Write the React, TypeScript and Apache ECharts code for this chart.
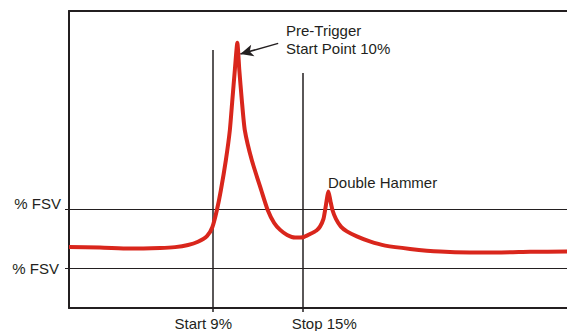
import React, { useEffect, useRef } from "react";
import * as echarts from "echarts";

// Curve (x: % of time axis, y: % of full scale)
const curveX = [0, 6.2, 12.2, 18.3, 21.3, 23.9, 25.9, 27.7, 28.8, 29.7, 30.5, 31.5, 32.3, 32.8, 33.3, 33.8, 34.2, 34.7, 35.3, 36.7, 38.6, 39.9, 41.2, 42.4, 43.8, 45.4, 47.0, 48.4, 49.7, 50.4, 51.1, 51.5, 52.1, 52.5, 52.9, 53.6, 54.6, 55.8, 57.8, 60.4, 63.5, 68.5, 74.5, 80.5, 86.5, 92.6, 100];
const curveY = [20.5, 20.4, 20.0, 20.2, 20.5, 21.2, 22.3, 24.2, 27.3, 33.0, 39.7, 49.8, 59.9, 70.0, 80.1, 89.3, 80.1, 70.0, 59.9, 49.8, 39.7, 33.0, 28.6, 26.3, 24.6, 23.7, 23.8, 24.9, 26.1, 27.4, 30.0, 33.7, 39.2, 36.0, 33.0, 30.0, 27.4, 25.8, 24.1, 22.4, 21.0, 19.9, 19.0, 18.7, 18.7, 18.9, 19.0];

// Horizontal threshold lines (% FSV)
const fsvLevels = [13.4, 33.2];
const fsvLabels = ["% FSV", "% FSV"];

// Vertical markers
const markerX = [28.86, 46.93];
const markerTop = [86.9, 79.1];
const markerLabels = ["Start 9%", "Stop 15%"];

// Annotation arrow (from text to peak)
const arrowFrom = [42.0, 89.1];
const arrowTo = [34.4, 85.5];

const INK = "#231f20";
const RED = "#d9261c";
const FONT = "'Liberation Sans', Arial, sans-serif";

export default function App() {
  const ref = useRef<HTMLDivElement>(null);

  useEffect(() => {
    if (!ref.current) return;
    const chart = echarts.init(ref.current, undefined, { renderer: "svg" });
    const data = curveX.map((x, i) => [x, curveY[i]]);
    const near = (a: number, b: number) => Math.abs(a - b) < 0.01;

    chart.setOption({
      animation: false,
      grid: { left: 69, right: 0, top: 11, bottom: 23 },
      xAxis: [
        {
          type: "value",
          min: 0,
          max: 100,
          position: "bottom",
          axisLine: { show: true, onZero: false, lineStyle: { color: INK, width: 2 } },
          splitLine: { show: false },
          axisTick: { show: true, customValues: markerX, length: 4, lineStyle: { color: INK, width: 1.5 } },
          axisLabel: {
            show: true,
            customValues: markerX,
            margin: 8,
            formatter: (v: number) => (near(v, markerX[0]) ? `{a|${markerLabels[0]}}` : `{b|${markerLabels[1]}}`),
            rich: {
              a: { fontFamily: FONT, fontSize: 15, color: INK, padding: [0, 19, 0, 0] },
              b: { fontFamily: FONT, fontSize: 15, color: INK, padding: [0, 0, 0, 43] },
            },
          },
        },
        {
          type: "value",
          min: 0,
          max: 100,
          position: "top",
          axisLine: { show: true, onZero: false, lineStyle: { color: INK, width: 2 } },
          splitLine: { show: false },
          axisTick: { show: false },
          axisLabel: { show: false },
        },
      ],
      yAxis: {
        type: "value",
        min: 0,
        max: 100,
        axisLine: { show: true, onZero: false, lineStyle: { color: INK, width: 2 } },
        splitLine: { show: false },
        axisTick: { show: true, customValues: fsvLevels, length: 4, lineStyle: { color: INK, width: 1 } },
        axisLabel: {
          show: true,
          customValues: fsvLevels,
          margin: 8,
          formatter: (v: number) => (near(v, fsvLevels[1]) ? `{u|${fsvLabels[1]}}` : `{l|${fsvLabels[0]}}`),
          rich: {
            u: { fontFamily: FONT, fontSize: 15, color: INK, padding: [0, 0, 12, 0] },
            l: { fontFamily: FONT, fontSize: 15, color: INK, padding: [1, 2, 0, 0] },
          },
        },
      },
      series: [
        {
          type: "line",
          xAxisIndex: 0,
          data,
          showSymbol: false,
          smooth: 0.2,
          z: 5,
          lineStyle: { color: RED, width: 4, miterLimit: 20 },
          markLine: {
            silent: true,
            symbol: ["none", "none"],
            label: { show: false },
            lineStyle: { color: INK, width: 1, type: "solid" },
            z: 2,
            data: [
              ...fsvLevels.map((y) => ({ yAxis: y })),
              ...markerX.map((x, i) => [
                { coord: [x, 0], lineStyle: { width: 1.5 } },
                { coord: [x, markerTop[i]] },
              ]),
              [
                { coord: arrowFrom, symbol: "none", lineStyle: { width: 1.5 } },
                { coord: arrowTo, symbol: "arrow", symbolSize: [9, 13] },
              ],
            ],
          },
        },
      ],
      graphic: [
        {
          type: "text",
          x: 286,
          y: 30.8,
          style: { text: "Pre-Trigger", font: `15px ${FONT}`, fill: INK, verticalAlign: "middle", align: "left" },
        },
        {
          type: "text",
          x: 286,
          y: 48.1,
          style: { text: "Start Point 10%", font: `15px ${FONT}`, fill: INK, verticalAlign: "middle", align: "left" },
        },
        {
          type: "text",
          x: 328,
          y: 182,
          style: { text: "Double Hammer", font: `15px ${FONT}`, fill: INK, verticalAlign: "middle", align: "left" },
        },
      ],
    });
    return () => chart.dispose();
  }, []);

  return (
    <div
      ref={ref}
      style={{ position: "absolute", left: 0, top: 0, width: 567, height: 331, background: "#fff" }}
    />
  );
}
